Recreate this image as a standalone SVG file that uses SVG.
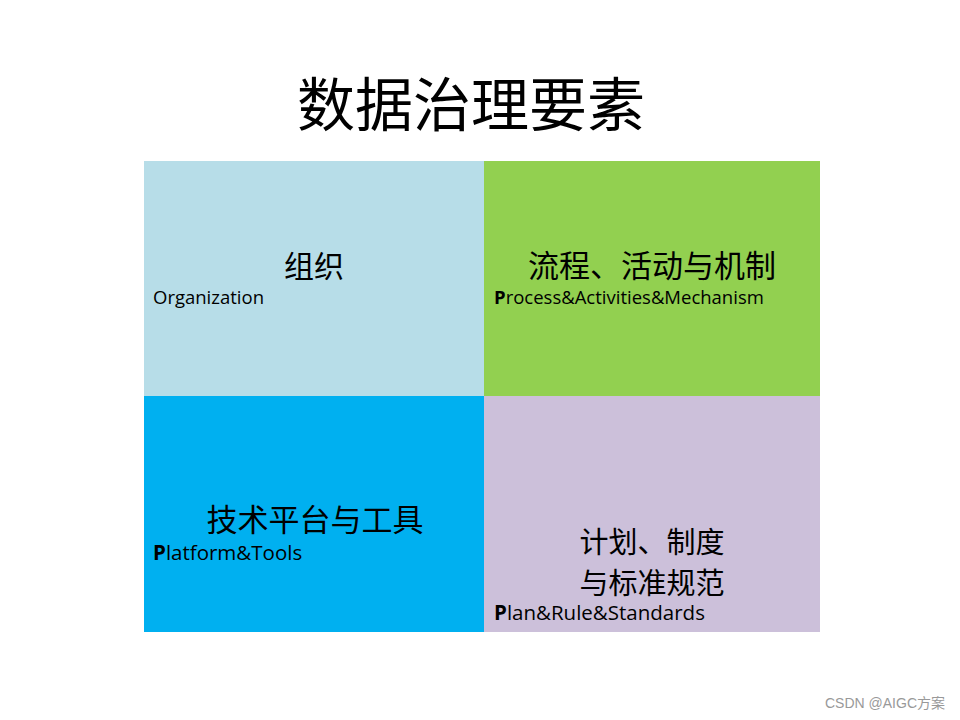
<svg xmlns="http://www.w3.org/2000/svg" width="960" height="720" viewBox="0 0 960 720">
<style>
.cn{font-family:"Noto Sans CJK SC","Noto Sans",sans-serif;fill:#000;text-anchor:middle}
.en{font-family:"Open Sans","Noto Sans",sans-serif;font-size:18.5px;fill:#000}
.en2{font-size:20.5px}
.b{font-weight:bold}
</style>
<rect width="960" height="720" fill="#fff"/>
<text class="cn" x="471" y="126" font-size="58">数据治理要素</text>
<g id="org">
<rect x="144" y="161" width="340" height="235" fill="#B7DDE8"/>
<text class="cn" x="314" y="277" font-size="30">组织</text>
<text class="en" x="153" y="304">Organization</text>
</g>
<g id="process">
<rect x="484" y="161" width="336" height="235" fill="#92D050"/>
<text class="cn" x="652" y="277" font-size="31">流程、活动与机制</text>
<text class="en" x="494" y="304"><tspan class="b">P</tspan>rocess&amp;Activities&amp;Mechanism</text>
</g>
<g id="platform">
<rect x="144" y="396" width="340" height="236" fill="#00B0F0"/>
<text class="cn" x="315" y="531" font-size="31">技术平台与工具</text>
<text class="en en2" x="153" y="560"><tspan class="b">P</tspan>latform&amp;Tools</text>
</g>
<g id="plan">
<rect x="484" y="396" width="336" height="236" fill="#CCC0DA"/>
<text class="cn" x="652" y="553" font-size="29">计划、制度</text>
<text class="cn" x="652" y="594" font-size="29">与标准规范</text>
<text class="en en2" x="494" y="620"><tspan class="b">P</tspan>lan&amp;Rule&amp;Standards</text>
</g>
<g id="connectors"/>
<text x="945" y="708" text-anchor="end" font-family="'Liberation Sans','Noto Sans CJK SC',sans-serif" font-size="14" fill="#999">CSDN @AIGC方案</text>
</svg>
